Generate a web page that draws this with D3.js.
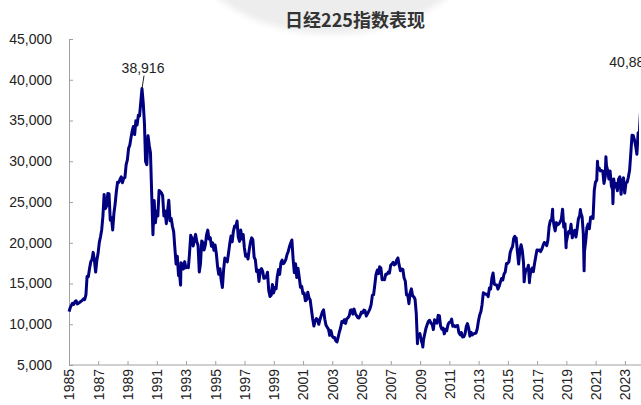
<!DOCTYPE html>
<html>
<head>
<meta charset="utf-8">
<script src="https://cdn.jsdelivr.net/npm/d3@7"></script>
<style>
  html, body { margin: 0; padding: 0; background: #fff; }
  svg { display: block; }
  .axis text { font-family: "Liberation Sans", Arial, sans-serif; font-size: 14px; fill: #222; }
  .axis path, .axis line { stroke: #a0a0a0; }
</style>
</head>
<body>
<div id="chart"></div>
<script>
// 日经225 月末收盘
const startYear = 1985;
const closes1985_1994 = [
  11992, 12321, 12580, 12426, 12758, 12882, 12504, 12590, 12700, 12818, 12928, 13113,
  13024, 13641, 15860, 15826, 16806, 17654, 17911, 18820, 17853, 16400, 17853, 18701,
  20048, 20766, 21567, 23274, 25929, 24176, 24488, 26029, 26011, 22765, 23078, 21564,
  23622, 24801, 26260, 27434, 27417, 27769, 28094, 27367, 27924, 27982, 29579, 30159,
  31581, 31985, 32839, 33713, 34267, 33269, 34954, 34431, 35636, 35549, 37268, 38916,
  37189, 34591, 29980, 29584, 33131, 31940, 31036, 25978, 20984, 25194, 22455, 23849,
  23293, 26409, 26292, 26111, 25790, 23291, 23900, 22336, 23916, 25222, 22687, 22984,
  22023, 21338, 19346, 17391, 18348, 15951, 15910, 17555, 17399, 16767, 17684, 16925,
  17023, 16953, 18591, 20919, 20552, 19590, 20380, 21027, 20106, 19703, 16408, 17417,
  20229, 19997, 19112, 19725, 20974, 21552, 20449, 20629, 19564, 19990, 19076, 19723
];
const closes1995_2004 = [
  18650, 17053, 16140, 16807, 15437, 14517, 16678, 18117, 17913, 17655, 18744, 19868,
  20813, 20125, 21407, 22041, 21956, 22667, 20693, 20167, 21556, 20467, 21020, 19361,
  18330, 18557, 18003, 19151, 20069, 20605, 20331, 18229, 17888, 16459, 16636, 15259,
  16628, 16831, 16527, 15641, 15671, 15830, 16379, 14108, 13406, 13564, 14883, 13842,
  14499, 14368, 15837, 16701, 16112, 17530, 17862, 17437, 17605, 17942, 18558, 18934,
  19540, 19960, 20337, 17974, 16332, 17411, 15727, 16861, 15747, 14540, 14649, 13786,
  13843, 12884, 12999, 13934, 13262, 12969, 11861, 10714, 9775, 10367, 10697, 10543,
  9997, 10588, 11025, 11493, 11764, 10622, 9877, 9619, 9383, 8640, 9216, 8579,
  8340, 8363, 7973, 7831, 8425, 9083, 9563, 10344, 10219, 10560, 10101, 10677,
  10784, 11042, 11715, 11762, 11236, 11859, 11326, 11082, 10824, 10771, 11101, 11489
];
const closes2005_2014 = [
  11388, 11741, 11669, 11009, 11277, 11584, 11900, 12414, 13574, 13607, 14872, 16111,
  16650, 16205, 17060, 16906, 15467, 15506, 15457, 16141, 16128, 16399, 16274, 17226,
  17383, 17604, 17288, 17400, 17876, 18138, 17249, 16569, 16786, 16738, 15681, 15308,
  13592, 13604, 12526, 13850, 14339, 13481, 13377, 13073, 11260, 8577, 8512, 8860,
  7994, 7568, 8110, 8828, 9523, 9958, 10357, 10493, 10133, 10035, 9346, 10546,
  10198, 10126, 11090, 11057, 9769, 9383, 9537, 8824, 9369, 9202, 9937, 10229,
  10238, 10624, 9755, 9850, 9694, 9816, 9833, 8955, 8700, 8988, 8435, 8455,
  8803, 9723, 10084, 9521, 8543, 9007, 8695, 8840, 8870, 8928, 9446, 10395,
  11139, 11559, 12398, 13861, 13775, 13677, 13668, 13389, 14456, 14328, 15662, 16291,
  14915, 14841, 14828, 14304, 14632, 15162, 15621, 15425, 16174, 16414, 17460, 17451
];
const closes2015_2024 = [
  17674, 18798, 19207, 19520, 20563, 20236, 20585, 18890, 17388, 19083, 19747, 19034,
  17518, 16027, 16759, 16666, 17235, 15576, 16569, 16887, 16450, 17425, 18308, 19114,
  19041, 19119, 18909, 19197, 19651, 20033, 19925, 19646, 20356, 22012, 22725, 22765,
  23098, 22068, 21454, 22468, 22202, 22305, 22554, 22865, 24120, 21920, 22351, 20015,
  20773, 21385, 21206, 22259, 20601, 21276, 21522, 20704, 21756, 22927, 23294, 23657,
  23205, 21143, 18917, 20194, 21878, 22288, 21710, 23140, 23185, 22977, 26434, 27444,
  27663, 28966, 29179, 28813, 28860, 28792, 27284, 28090, 29453, 28893, 27822, 28792,
  27002, 26527, 27821, 26848, 27280, 26393, 27802, 28092, 25937, 27587, 27969, 26095,
  27327, 27446, 28041, 28856, 30888, 33189, 33172, 32619, 31858, 30859, 33487, 33464,
  36287, 39166, 40369
];

// 月内高低点
const extraDates = ["1985-01-04", "1992-08-18", "2008-10-27", "2009-03-10", "2015-06-24",
  "2016-02-12", "2016-06-24", "2018-01-23", "2018-12-25", "2019-12-17", "2020-03-19",
  "2021-02-16", "2021-09-14", "2022-03-09", "2024-03-22"];
const extraValues = [11543, 14800, 7600, 7200, 20800,
  15200, 15100, 24120, 19400, 24066, 16550,
  30000, 30560, 24800, 40888];

const yTicks = [5000, 10000, 15000, 20000, 25000, 30000, 35000, 40000, 45000];
const xTickYears = d3.range(1985, 2024, 2);

const labelDates = ["1989-12-29", "2024-03-22"];
const labelValues = [38916, 40888];
const labelTexts = ["38,916", "40,888"];

const title = "日经225指数表现";

// 组装数据
const monthly = [].concat(closes1985_1994, closes1995_2004, closes2005_2014, closes2015_2024)
  .map((v, i) => ({ date: new Date(startYear + Math.floor(i / 12), i % 12, 28), value: v }));
const parse = d3.timeParse("%Y-%m-%d");
const extras = extraDates.map((d, i) => ({ date: parse(d), value: extraValues[i] }));
const series = monthly.concat(extras).sort((a, b) => a.date - b.date);

const W = 641, H = 405;
const svg = d3.select("#chart").append("svg").attr("width", W).attr("height", H);

// 顶部浅灰背景
const defs = svg.append("defs");
defs.append("filter").attr("id", "blur")
  .attr("x", "-20%").attr("y", "-20%").attr("width", "140%").attr("height", "140%")
  .append("feGaussianBlur").attr("stdDeviation", 3);
defs.append("clipPath").attr("id", "plotClip")
  .append("rect").attr("x", 0).attr("y", 0).attr("width", 639).attr("height", H);
svg.append("ellipse")
  .attr("cx", 332).attr("cy", -68).attr("rx", 150).attr("ry", 102)
  .attr("fill", "#ededed").attr("filter", "url(#blur)");

svg.append("text")
  .attr("x", 355).attr("y", 27)
  .attr("text-anchor", "middle")
  .attr("font-family", "'Noto Sans CJK SC', sans-serif")
  .attr("font-weight", "bold")
  .attr("font-size", 18)
  .attr("fill", "#333")
  .text(title);

const x = d3.scaleTime()
  .domain([new Date(1985, 0, 1), new Date(2024, 0, 1)])
  .range([69, 639.5]);
const y = d3.scaleLinear().domain([5000, 45000]).range([365, 39]);

// Y 轴
svg.append("g").attr("class", "axis")
  .attr("transform", "translate(69,0)")
  .call(d3.axisLeft(y).tickValues(yTicks).tickFormat(d3.format(",")).tickSizeInner(-4).tickSizeOuter(0).tickPadding(17));

// X 轴
const xAxis = svg.append("g").attr("class", "axis")
  .attr("transform", "translate(0,365)")
  .call(d3.axisBottom(x).tickValues(xTickYears.map(yr => new Date(yr, 0, 1)))
    .tickFormat(d3.timeFormat("%Y")).tickSizeInner(-4).tickSizeOuter(0));
xAxis.select(".domain").attr("d", `M69,0H${W}`);
xAxis.selectAll("text")
  .attr("text-anchor", "end")
  .attr("transform", "rotate(-90)")
  .attr("x", -4).attr("y", 0).attr("dy", "0.35em");

// 折线
const line = d3.line().x(d => x(d.date)).y(d => y(d.value));
svg.append("path")
  .datum(series)
  .attr("d", line)
  .attr("clip-path", "url(#plotClip)")
  .attr("fill", "none")
  .attr("stroke", "#000080")
  .attr("stroke-width", 3)
  .attr("stroke-linejoin", "round");

// 峰值标注
const labelDx = [1, -12];
const labelDy = [-16, -6];
const labelLeader = [true, false];
labelDates.forEach((d, i) => {
  const px = x(parse(d)), py = y(labelValues[i]);
  const lx = px + labelDx[i], ly = py + labelDy[i];
  if (labelLeader[i]) {
    svg.append("line")
      .attr("x1", lx + 1).attr("y1", ly + 3)
      .attr("x2", px).attr("y2", py)
      .attr("stroke", "#222").attr("stroke-width", 1);
  }
  svg.append("text")
    .attr("x", lx).attr("y", ly)
    .attr("text-anchor", "middle")
    .attr("font-family", "'Liberation Sans', Arial, sans-serif")
    .attr("font-size", 14)
    .attr("fill", "#222")
    .text(labelTexts[i]);
});
</script>
</body>
</html>
